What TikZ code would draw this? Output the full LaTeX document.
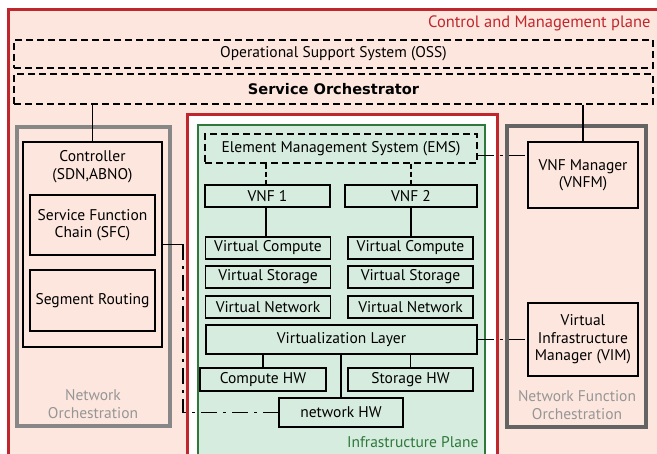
\documentclass[tikz,border=0pt]{standalone}
\usepackage{fontspec}
\setmainfont{PT Sans}
\newfontfamily\boldfont{DejaVu Sans}
\usepackage{tikz}
\usetikzlibrary{positioning}
\definecolor{cmred}{RGB}{192,39,45}
\definecolor{cmpink}{RGB}{253,230,222}
\definecolor{infgreen}{RGB}{46,120,60}
\definecolor{inffill}{RGB}{214,236,222}
\definecolor{nogray}{RGB}{135,135,135}
\definecolor{nfogray}{RGB}{100,100,100}
\definecolor{lblgray}{RGB}{150,150,150}
\tikzset{
    block/.style = {draw, line width=1.3pt, align=center, inner sep=1pt},
    dashbox/.style = {block, dash pattern=on 7pt off 4pt},
    link/.style = {line width=1.7pt},
    dashlink/.style = {line width=1.5pt, dash pattern=on 5pt off 3pt},
    dotlink/.style = {line width=1.7pt, dash pattern=on 16pt off 6pt on 3pt off 6pt},
}

\begin{document}
\begin{tikzpicture}[x=1pt,y=-1pt,font=\fontsize{15.5}{17.5}\selectfont]
 \useasboundingbox (0,0) rectangle (657,454);
 % control and management plane
 \draw[cmred, line width=3pt, fill=cmpink] (8,10) rectangle (680,480);
 \node (cmp) [anchor=east, text=cmred, font=\fontsize{16.5}{18}\selectfont] at (654,23) {Control and Management plane};
 \node (oss) [dashbox, minimum width=639, minimum height=28] at (333.5,54) {Operational Support System (OSS)};
 \node (orch) [dashbox, minimum width=639, minimum height=30] at (333.5,89)
   {\boldfont\fontsize{14.6}{16}\selectfont\bfseries Service Orchestrator};

 % network orchestration
 \draw[nogray, line width=4pt] (17,127) rectangle (170,426);
 \node (nolbl) [text=lblgray, align=center] at (93,404) {Network\\Orchestration};
 \node (ctrl) [block, minimum width=139, minimum height=205] at (92.5,244.5) {};
 \node (ctrllbl) [anchor=north, align=center, inner sep=3pt] at ([yshift=-6pt]ctrl.north) {Controller\\(SDN,ABNO)};
 \node (sfc) [block, minimum width=125, minimum height=60] at (92.5,225) {Service Function\\Chain (SFC)};
 \node (sr) [block, minimum width=125, minimum height=61] at (92.5,300.5) {Segment Routing};

 % infrastructure plane
 \draw[cmred, line width=3pt, fill=white] (187,115) rectangle (497,480);
 \draw[infgreen, line width=2.5pt, fill=inffill] (198,125) rectangle (485,480);
 \node (inflbl) [anchor=east, text=infgreen] at (482,442) {Infrastructure Plane};
 \node (ems) [dashbox, minimum width=272, minimum height=29] at (341,148.5) {Element Management System (EMS)};
 \node (vnf1) [block, minimum width=125, minimum height=22] at (267.5,196) {VNF 1};
 \node (vnf2) [block, minimum width=132, minimum height=22] at (411,196) {VNF 2};
 \node (vc1) [block, minimum width=125, minimum height=22] at (268,248) {Virtual Compute};
 \node (vc2) [block, minimum width=125, minimum height=22] at (410.5,248) {Virtual Compute};
 \node (vs1) [block, minimum width=125, minimum height=22] at (268,277) {Virtual Storage};
 \node (vs2) [block, minimum width=125, minimum height=22] at (410.5,277) {Virtual Storage};
 \node (vn1) [block, minimum width=125, minimum height=22] at (268,307) {Virtual Network};
 \node (vn2) [block, minimum width=125, minimum height=22] at (410.5,307) {Virtual Network};
 \node (vl) [block, minimum width=271, minimum height=29] at (341.5,339.5) {Virtualization Layer};
 \node (chw) [block, minimum width=126, minimum height=23] at (263,379.5) {Compute HW};
 \node (shw) [block, minimum width=125, minimum height=23] at (410.5,379.5) {Storage HW};
 \node (nhw) [block, minimum width=124, minimum height=29] at (341,412.5) {network HW};

 % network function orchestration
 \draw[nfogray, line width=4pt] (507,126) rectangle (646,427);
 \node (nfolbl) [text=lblgray, align=center] at (577,405) {Network Function\\Orchestration};
 \node (vnfm) [block, minimum width=110, minimum height=66] at (583,175) {VNF Manager\\(VNFM)};
 \node (vim) [block, minimum width=110, minimum height=73] at (583,339.5) {Virtual\\Infrastructure\\Manager (VIM)};

 % connectors
 \draw[link] (orch.south -| ctrl.north) -- (ctrl.north);
 \draw[link] (orch.south -| vnfm.north) -- (vnfm.north);
 \draw[dashlink] (ems.south -| 266,0) -- (vnf1.north -| 266,0);
 \draw[dashlink] (ems.south -| vnf2.north) -- (vnf2.north);
 \draw[link] (vnf1.south -| 266,0) -- (vc1.north -| 266,0);
 \draw[link] (vnf2.south) -- (vnf2.south |- vc2.north);
 \draw[link] (vl.south -| chw.north) -- (chw.north);
 \draw[link] (vl.south -| shw.north) -- (shw.north);
 \draw[link] (vl.south -| nhw.north) -- (nhw.north);
 \coordinate (bend1) at (183,244.5);
 \draw[link] (ctrl.east) -- (bend1);
 \draw[dotlink] (bend1) -- (bend1 |- nhw.west) -- (nhw.west);
 \draw[dotlink] ([yshift=-7pt]ems.east) -- ([yshift=-7pt]ems.east -| vnfm.west);
 \draw[dotlink] (vl.east) -- (vim.west);
\end{tikzpicture}
\end{document}
